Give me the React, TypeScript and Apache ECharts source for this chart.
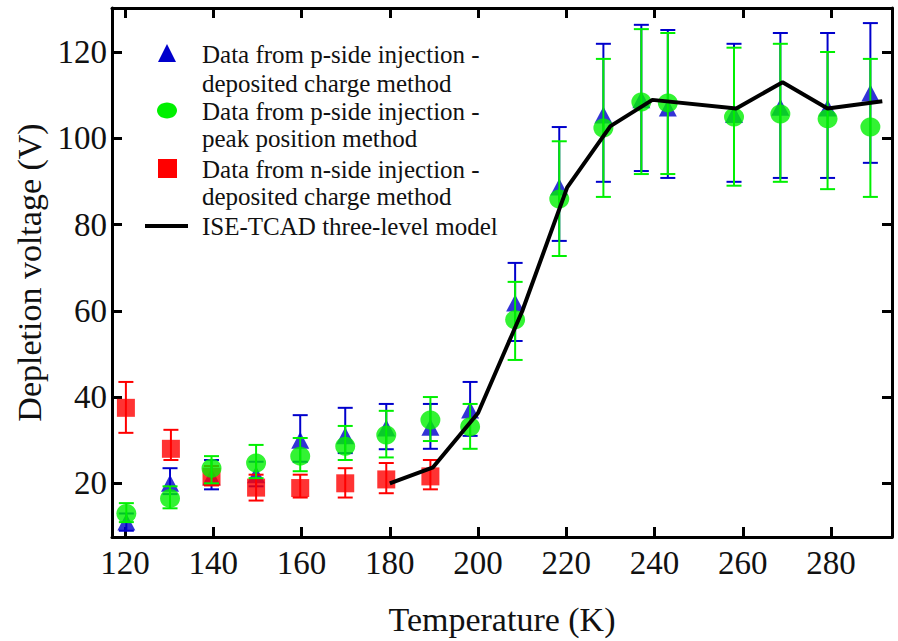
import React, { useEffect, useRef } from "react";
import * as echarts from "echarts";

const xTicks = [120, 140, 160, 180, 200, 220, 240, 260, 280];
const yTicks = [20, 40, 60, 80, 100, 120];

const tempsP = [120.3, 130.2, 139.6, 149.7, 159.7, 169.9, 179.2, 189.2, 198.2, 208.4, 218.4, 228.4, 237, 243, 258, 268.5, 279.2, 288.9];
const blueV = [11, 20, 21.5, 22, 30, 31, 32.8, 33, 37, 61.8, 88.7, 105.4, 108.9, 107, 105.5, 107.2, 107, 110.5];
const blueLo = [9, 17.5, 18.6, 19.3, 25, 27, 27.9, 28, 31, 53, 76.2, 89.9, 92.4, 90.8, 89.9, 90.8, 90.8, 94.3];
const blueHi = [13, 23.5, 25.4, 25, 35.8, 37.5, 38.4, 38.4, 43.5, 71.1, 102.6, 121.9, 126.3, 125.1, 121.9, 124.4, 124.4, 126.7];

const greenV = [13, 16.5, 23.5, 24.7, 26.3, 28.6, 31.2, 34.7, 33.1, 57.9, 85.9, 102.4, 108.4, 108.2, 104.9, 105.6, 104.5, 102.6];
const greenLo = [11, 14.2, 20, 21.2, 22.8, 25.4, 26, 29.8, 28, 48.6, 72.7, 86.4, 91.7, 91.7, 89, 89.9, 88.2, 86.4];
const greenHi = [15.4, 19.3, 26.3, 28.9, 30.5, 33.3, 36.8, 40, 38.4, 66.7, 99.3, 118.4, 125.3, 124.4, 121, 121.9, 120, 118.4];

const tempsN = [120.2, 130.4, 139.6, 149.7, 159.7, 169.9, 179.2, 189.2];
const redV = [37.5, 28, 21.5, 19, 18.9, 20, 20.9, 21.6];
const redLo = [31.7, 25.4, 19.5, 16, 16.7, 16.7, 17.7, 18.6];
const redHi = [43.5, 32.4, 24, 22, 22, 23.5, 24.7, 25.4];

const modelT = [180, 189.8, 200, 210, 220.2, 230, 239.5, 258.5, 269, 279.2, 291.6];
const modelV = [20, 23.7, 36.3, 59.9, 88.6, 102.8, 108.9, 106.9, 113, 106.9, 108.6];

const legendLines = [
  "Data from p-side injection -",
  "deposited charge method",
  "Data from p-side injection -",
  "peak position method",
  "Data from n-side injection -",
  "deposited charge method",
  "ISE-TCAD three-level model",
];

const FONT = "'Liberation Serif', 'Times New Roman', serif";
const BLUE = "#0000cc";
const GREEN = "#00f000";
const RED = "#ff0000";

function errorSeries(temps: number[], lo: number[], hi: number[], color: string, z: number) {
  return {
    type: "custom",
    z,
    silent: true,
    data: temps.map((t, i) => [t, lo[i], hi[i]]),
    encode: { x: 0, y: [1, 2] },
    renderItem: (params: any, api: any) => {
      const x = api.value(0);
      const pLo = api.coord([x, api.value(1)]);
      const pHi = api.coord([x, api.value(2)]);
      const half = 7.5;
      const style = { stroke: color, lineWidth: 2 };
      return {
        type: "group",
        children: [
          { type: "line", shape: { x1: pLo[0], y1: pLo[1], x2: pHi[0], y2: pHi[1] }, style },
          { type: "line", shape: { x1: pHi[0] - half, y1: pHi[1], x2: pHi[0] + half, y2: pHi[1] }, style },
          { type: "line", shape: { x1: pLo[0] - half, y1: pLo[1], x2: pLo[0] + half, y2: pLo[1] }, style },
        ],
      };
    },
  };
}

export default function App() {
  const ref = useRef<HTMLDivElement>(null);
  useEffect(() => {
    if (!ref.current) return;
    const chart = echarts.init(ref.current, null, { renderer: "svg" });
    const axisLine = { show: true, lineStyle: { color: "#000", width: 3 } };
    const legendY = [54, 83.5, 111, 138.5, 169, 196.5, 226];
    const graphics: any[] = legendLines.map((txt, i) => ({
      type: "text",
      x: 202,
      y: legendY[i],
      z: 100,
      style: {
        text: txt,
        font: `25px ${FONT}`,
        fill: "#111",
        verticalAlign: "middle",
      },
    }));
    graphics.push(
      { type: "polygon", z: 100, shape: { points: [[158, 62], [176, 62], [167, 44]] }, style: { fill: BLUE } },
      { type: "ellipse", z: 100, shape: { cx: 167, cy: 110.5, rx: 10, ry: 8 }, style: { fill: GREEN } },
      { type: "rect", z: 100, shape: { x: 158, y: 159, width: 19, height: 19 }, style: { fill: RED } },
      { type: "line", z: 100, shape: { x1: 145, y1: 226, x2: 188, y2: 226 }, style: { stroke: "#000", lineWidth: 4 } }
    );
    chart.setOption({
      animation: false,
      backgroundColor: "#fff",
      grid: { left: 112, right: 6, top: 8, bottom: 104, containLabel: false },
      xAxis: [
        {
          type: "value",
          position: "bottom",
          min: 117.05,
          max: 293.8,
          axisLine,
          splitLine: { show: false },
          axisTick: { show: true, inside: true, length: 10, lineStyle: { color: "#000", width: 3 }, customValues: xTicks },
          axisLabel: { customValues: xTicks, fontSize: 33, fontFamily: FONT, color: "#111", margin: 9 },
          name: "Temperature (K)",
          nameLocation: "middle",
          nameGap: 65,
          nameTextStyle: { fontSize: 34, fontFamily: FONT, color: "#111" },
        },
        {
          type: "value",
          position: "top",
          min: 117.05,
          max: 293.8,
          axisLine,
          splitLine: { show: false },
          axisTick: { show: true, inside: true, length: 10, lineStyle: { color: "#000", width: 3 }, customValues: xTicks },
          axisLabel: { show: false },
        },
      ],
      yAxis: [
        {
          type: "value",
          position: "left",
          min: 7.55,
          max: 130.2,
          axisLine,
          splitLine: { show: false },
          axisTick: { show: true, inside: true, length: 10, lineStyle: { color: "#000", width: 3 }, customValues: yTicks },
          axisLabel: { customValues: yTicks, fontSize: 33, fontFamily: FONT, color: "#111", margin: 5 },
          name: "Depletion voltage (V)",
          nameLocation: "middle",
          nameRotate: 90,
          nameGap: 60,
          nameTextStyle: { fontSize: 34, fontFamily: FONT, color: "#111" },
        },
        {
          type: "value",
          position: "right",
          min: 7.55,
          max: 130.2,
          axisLine,
          splitLine: { show: false },
          axisTick: { show: true, inside: true, length: 10, lineStyle: { color: "#000", width: 3 }, customValues: yTicks },
          axisLabel: { show: false },
        },
      ],
      series: [
        errorSeries(tempsP, blueLo, blueHi, BLUE, 1),
        {
          type: "scatter",
          z: 2,
          name: "Data from p-side injection - deposited charge method",
          symbol: "triangle",
          symbolSize: [18, 17],
          itemStyle: { color: BLUE },
          data: tempsP.map((t, i) => [t, blueV[i]]),
        },
        errorSeries(tempsN, redLo, redHi, RED, 3),
        {
          type: "scatter",
          z: 4,
          name: "Data from n-side injection - deposited charge method",
          symbol: "rect",
          symbolSize: 18,
          itemStyle: { color: RED },
          data: tempsN.map((t, i) => [t, redV[i]]),
        },
        errorSeries(tempsP, greenLo, greenHi, GREEN, 5),
        {
          type: "scatter",
          z: 6,
          name: "Data from p-side injection - peak position method",
          symbol: "circle",
          symbolSize: [20, 19],
          itemStyle: { color: GREEN },
          data: tempsP.map((t, i) => [t, greenV[i]]),
        },
        {
          type: "line",
          z: 7,
          name: "ISE-TCAD three-level model",
          symbol: "none",
          lineStyle: { color: "#000", width: 4 },
          data: modelT.map((t, i) => [t, modelV[i]]),
        },
      ],
      graphic: graphics,
    });
    return () => chart.dispose();
  }, []);
  return (
    <div
      ref={ref}
      style={{ position: "fixed", left: 0, top: 0, width: 898, height: 641, background: "#fff" }}
    />
  );
}
